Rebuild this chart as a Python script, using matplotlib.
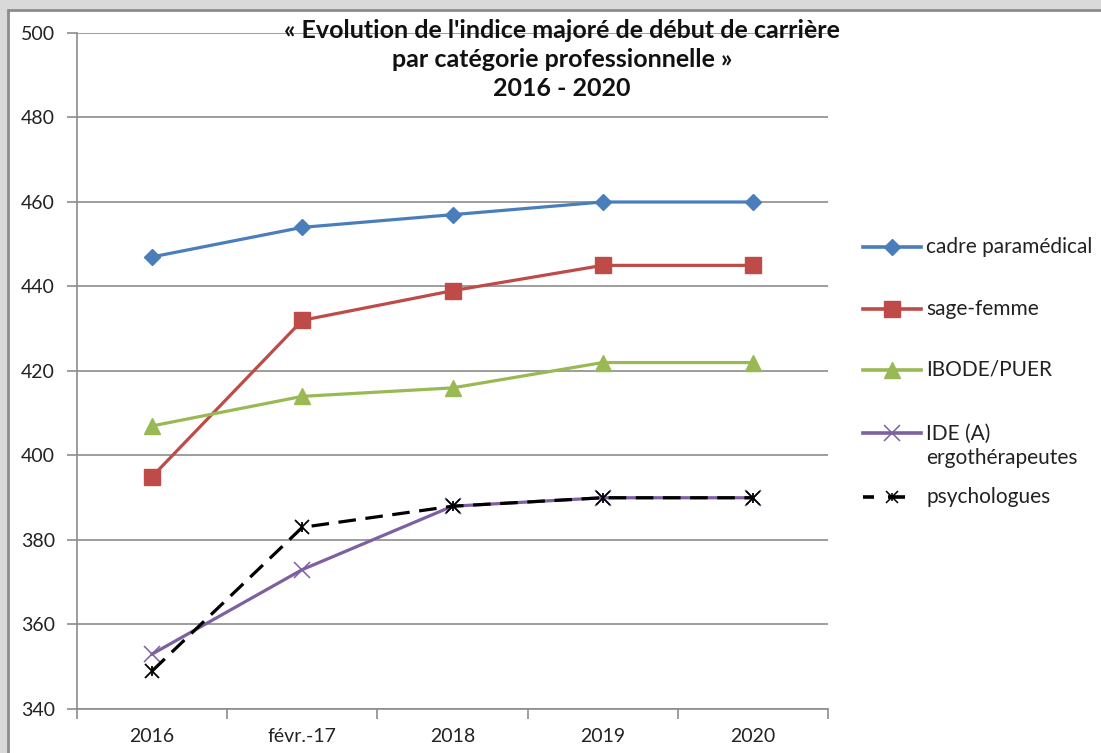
import matplotlib
matplotlib.use("Agg")
import matplotlib.pyplot as plt
from matplotlib.patches import Rectangle
from matplotlib.lines import Line2D

plt.rcParams['font.family'] = ['Lato', 'DejaVu Sans']

categories = ["2016", "févr.-17", "2018", "2019", "2020"]
series_names = ["cadre paramédical", "sage-femme", "IBODE/PUER",
                "IDE (A)\nergothérapeutes", "psychologues"]
cadre = [447, 454, 457, 460, 460]
sage_femme = [395, 432, 439, 445, 445]
ibode = [407, 414, 416, 422, 422]
ide = [353, 373, 388, 390, 390]
psycho = [349, 383, 388, 390, 390]
title_lines = ["« Evolution de l'indice majoré de début de carrière",
               "par catégorie professionnelle »",
               "2016 - 2020"]

W, H = 1101, 753


def fx(px):
    return px / W


def fy(py):
    return 1 - py / H


fig = plt.figure(figsize=(W / 100, H / 100), dpi=100, facecolor="#d9d9d9")
# white chart area with a grey frame, like the excel sheet
fig.add_artist(Rectangle((fx(8), -0.01), 1.0, fy(10) + 0.01,
                         transform=fig.transFigure, facecolor="white",
                         edgecolor="#8c8c8c", linewidth=2, zorder=0))

ax = fig.add_axes([fx(77), fy(709), fx(828 - 77), (709 - 33) / H])
ax.set_facecolor("none")

colors = ["#4a7ebb", "#be4b48", "#98b954", "#7d60a0", "black"]
markers = [dict(marker="D", ms=8.5),
           dict(marker="s", ms=11),
           dict(marker="^", ms=11),
           dict(marker="x", ms=11, mew=1.1),
           dict(marker="x", ms=10, mew=1.3)]
linestyles = ["-", "-", "-", "-", (0, (5.5, 3))]
all_vals = [cadre, sage_femme, ibode, ide, psycho]

x = list(range(len(categories)))
for vals, c, mk, ls, name in zip(all_vals, colors, markers, linestyles, series_names):
    ax.plot(x, vals, lw=2.3, color=c, ls=ls, label=name, zorder=5, **mk)
# little vertical stroke of the excel "star" marker
ax.plot(x, psycho, ls="none", marker="|", ms=7, mew=1.3, color="black", zorder=6)

ax.set_xlim(-0.5, len(categories) - 0.5)
ax.set_ylim(340, 500)
ax.set_yticks(range(340, 501, 20))
ax.set_xticks(x)
ax.set_xticklabels(categories)
ax.set_xticks([i - 0.5 for i in range(len(categories) + 1)], minor=True)

ax.grid(axis="y", color="#8c8c8c", lw=1.2, zorder=1)
for s in ["top", "right"]:
    ax.spines[s].set_visible(False)
for s in ["left", "bottom"]:
    ax.spines[s].set_color("#8c8c8c")
    ax.spines[s].set_linewidth(1.2)

ax.tick_params(axis="y", length=7, width=1.2, color="#8c8c8c", labelsize=14, pad=9,
               labelcolor="#222222")
ax.tick_params(axis="x", which="major", length=0, labelsize=14, pad=14, labelcolor="#222222")
ax.tick_params(axis="x", which="minor", length=7, width=1.2, color="#8c8c8c")

for line, py in zip(title_lines, [30, 59.5, 89]):
    fig.text(fx(562), fy(py), line, ha="center", va="center", fontsize=18,
             fontweight="bold", color="#111111")

# legend drawn by hand so the entries sit where excel puts them
leg_y = [247, 309, 370, 433, 497]
T = fig.transFigure
for c, mk, name, py in zip(colors, markers, series_names, leg_y):
    if name == "psychologues":
        fig.add_artist(Line2D([fx(863), fx(874)], [fy(py)] * 2, transform=T,
                              color=c, lw=2.6, solid_capstyle="butt"))
        fig.add_artist(Line2D([fx(888), fx(905)], [fy(py)] * 2, transform=T,
                              color=c, lw=2.6, solid_capstyle="butt"))
        fig.add_artist(Line2D([fx(892)], [fy(py)], transform=T, ls="none",
                              marker="x", ms=8, mew=1.1, color=c))
        fig.add_artist(Line2D([fx(892)], [fy(py)], transform=T, ls="none",
                              marker="|", ms=6, mew=1.1, color=c))
    else:
        fig.add_artist(Line2D([fx(863), fx(921)], [fy(py)] * 2, transform=T,
                              color=c, lw=2.6))
        fig.add_artist(Line2D([fx(892)], [fy(py)], transform=T, ls="none", color=c, **mk))
    ty = py + 13 if "\n" in name else py
    fig.text(fx(926), fy(ty), name, ha="left", va="center", fontsize=15,
             color="#222222", linespacing=1.25)

fig.savefig("out.png", dpi=100, facecolor=fig.get_facecolor())
